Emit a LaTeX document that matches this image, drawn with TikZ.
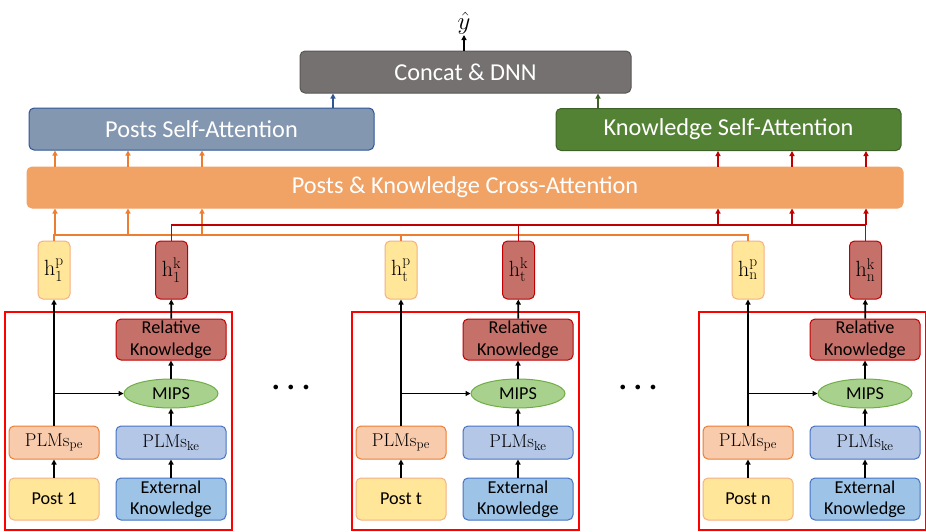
\documentclass[tikz,border=0pt]{standalone}
\usepackage{amsmath}
\usepackage{fontspec}
\newfontfamily\calibri{Carlito}
\usetikzlibrary{arrows.meta,shapes.geometric}

\definecolor{catfill}{HTML}{767171}
\definecolor{catline}{HTML}{5A5656}
\definecolor{psafill}{HTML}{8497B0}
\definecolor{psaline}{HTML}{2F5597}
\definecolor{ksafill}{HTML}{548235}
\definecolor{ksaline}{HTML}{3D6127}
\definecolor{crossfill}{HTML}{F1A265}
\definecolor{orgline}{HTML}{ED7D31}
\definecolor{redline}{HTML}{C00000}
\definecolor{hpfill}{HTML}{FFE699}
\definecolor{hpline}{HTML}{F4B183}
\definecolor{hkfill}{HTML}{C6706A}
\definecolor{pefill}{HTML}{F8CBAD}
\definecolor{kefill}{HTML}{B4C7E7}
\definecolor{keline}{HTML}{4472C4}
\definecolor{extfill}{HTML}{9DC3E6}
\definecolor{mipsfill}{HTML}{A9D18E}
\definecolor{mipsline}{HTML}{70AD47}

\tikzset{
  box/.style={draw, rounded corners=5pt, line width=1pt, inner sep=0pt, align=center},
  bigbox/.style={box, text=white, minimum height=42pt, font=\calibri\fontsize{24.3}{28}\selectfont},
  smallbox/.style={box, text=black, font=\calibri\fontsize{18.2}{21.5}\selectfont},
  serifbox/.style={box, text=black, font=\rmfamily\fontsize{18.5}{21.5}\selectfont},
  hbox/.style={serifbox, minimum width=32pt, minimum height=58pt, font=\rmfamily\fontsize{22}{24}\selectfont},
  arr/.style={-{Triangle[length=5pt,width=5pt]}, line width=1.8pt},
  frame/.style={draw=red, line width=1.5pt},
  dots/.style={font=\fontsize{12}{12}\selectfont}
}

\begin{document}
\begin{tikzpicture}[x=1pt,y=-1pt]
  \useasboundingbox (0,0) rectangle (926,531);
  \node[bigbox, fill=catfill, draw=catline, minimum width=331pt] (concat) at (465.5,72) {Concat \& DNN};
  \node[anchor=south, inner sep=0pt, font=\fontsize{31}{31}\selectfont] (yhat) at (464,35) {$\hat{y}$};
  \node[bigbox, fill=psafill, draw=psaline, minimum width=345pt] (psa) at (201.5,129) {Posts Self-Attention};
  \node[bigbox, fill=ksafill, draw=ksaline, minimum width=345pt] (ksa) at (728.5,129.5) {Knowledge Self-Attention};
  \node[bigbox, fill=crossfill, draw=crossfill, minimum width=876pt, minimum height=41pt] (cross) at (465,187.5) {Posts \& Knowledge Cross-Attention};
  \coordinate (pa) at (333,0);
  \coordinate (ka) at (598,0);
  \foreach \x [count=\i] in {55,128,202}
    \coordinate (oc\i) at (\x,235);
  \foreach \x [count=\i] in {718,792,866}
    \coordinate (rc\i) at (\x,225);

  \draw[arr] (concat.north -| yhat.south) -- (yhat.south);
  \draw[arr, line width=1.5pt, psaline] (psa.north -| pa) -- (concat.south -| pa);
  \draw[arr, line width=1.5pt, ksaline] (ksa.north -| ka) -- (concat.south -| ka);

  \foreach \dx/\s in {0/1,347/t,694/n} {
    \begin{scope}[xshift=\dx pt]
      \draw[frame] (5,312) rectangle (232,530);
      \node[hbox, fill=hpfill, draw=hpline] (hp\s) at (54,270) {h$^{\text{p}}_{\text{\s}}$};
      \node[hbox, fill=hkfill, draw=redline] (hk\s) at (171.5,270) {h$^{\text{k}}_{\text{\s}}$};
      \node[smallbox, fill=hkfill, draw=redline, minimum width=110pt, minimum height=41pt] (rel\s) at (171,339.5) {Relative\\Knowledge};
      \node[smallbox, ellipse, fill=mipsfill, draw=mipsline, minimum width=94pt, minimum height=29pt] (mips\s) at (171,393.5) {MIPS};
      \node[serifbox, fill=pefill, draw=orgline, minimum width=90pt, minimum height=33pt] (pe\s) at (54,442.5) {PLMs$_{\text{pe}}$};
      \node[serifbox, fill=kefill, draw=keline, minimum width=110pt, minimum height=33pt] (ke\s) at (171,442.5) {PLMs$_{\text{ke}}$};
      \node[smallbox, fill=hpfill, draw=hpline, minimum width=90pt, minimum height=42pt] (post\s) at (54,499) {Post \s};
      \node[smallbox, fill=extfill, draw=keline, minimum width=110pt, minimum height=42pt] (ext\s) at (171,499) {External\\Knowledge};
    \end{scope}
    \draw[arr] (post\s) -- (pe\s);
    \draw[arr] (pe\s) -- (hp\s);
    \draw[arr] (pe\s.north |- mips\s) -- (mips\s.west);
    \draw[arr] (ext\s) -- (ke\s);
    \draw[arr] (ke\s) -- (mips\s);
    \draw[arr] (mips\s) -- (rel\s);
    \draw[arr] (rel\s) -- (hk\s);
  }
  \node[dots] (dots1) at (291,388) {$\bullet\hspace{6.5pt}\bullet\hspace{6.5pt}\bullet$};
  \node[dots] (dots2) at (638,388) {$\bullet\hspace{6.5pt}\bullet\hspace{6.5pt}\bullet$};

  % buses into the cross-attention
  \draw[orgline, line width=1.8pt] (hp1.north) -- (hp1.north |- oc1) -| (hpn.north);
  \draw[orgline, line width=1.8pt] (hpt.north) -- (hpt.north |- oc1);
  \foreach \i in {1,2,3} {
    \draw[arr, orgline] (oc\i) -- (oc\i |- cross.south);
    \draw[arr, orgline] (oc\i |- cross.north) -- (oc\i |- psa.south);
  }
  \draw[redline, line width=1.8pt] (hk1.north) -- (hk1.north |- rc1) -| (hkn.north);
  \draw[redline, line width=1.8pt] (hkt.north) -- (hkt.north |- rc1);
  \foreach \i in {1,2,3} {
    \draw[arr, redline] (rc\i) -- (rc\i |- cross.south);
    \draw[arr, redline] (rc\i |- cross.north) -- (rc\i |- ksa.south);
  }
\end{tikzpicture}
\end{document}
